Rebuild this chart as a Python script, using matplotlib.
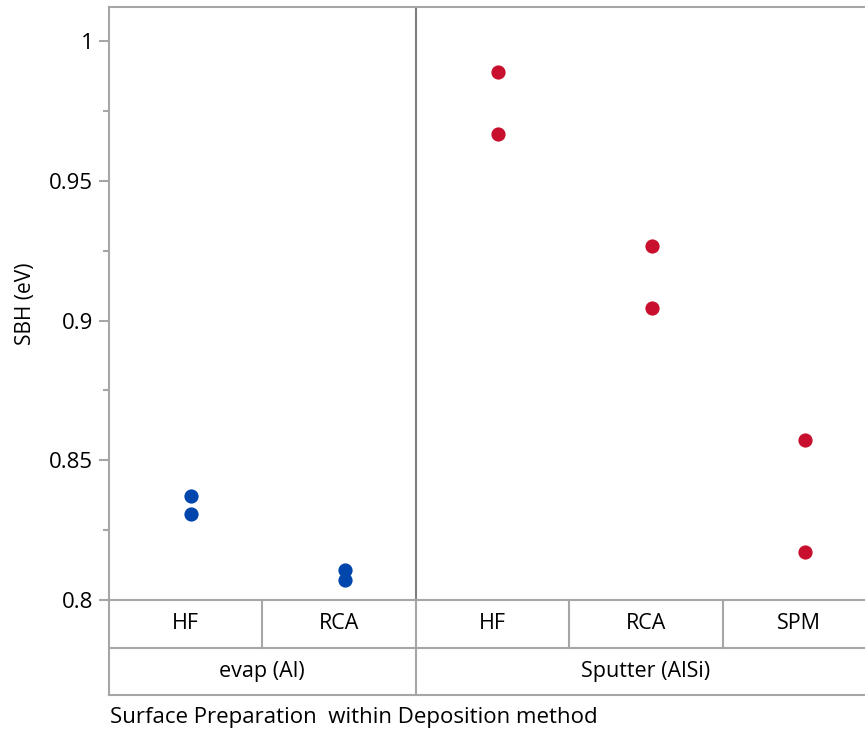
import matplotlib
matplotlib.use("Agg")
import matplotlib.pyplot as plt

plt.rcParams['font.family'] = ['Open Sans', 'DejaVu Sans']

# data
methods = ['evap (Al)', 'Sputter (AlSi)']
preps = [['HF', 'RCA'], ['HF', 'RCA', 'SPM']]
sbh = [
    [[0.8371, 0.8307], [0.8107, 0.8071]],
    [[0.9889, 0.9668], [0.9268, 0.9046], [0.8571, 0.8171]],
]
colors = ['#0046AD', '#C8102E']
grid_col = '#A6A6A6'

W, H = 865, 734
fig = plt.figure(figsize=(W / 100, H / 100), dpi=100)

x0 = 108.5
colw = 153.5
ncol = sum(len(p) for p in preps)
y_top, y_bot = 7, 600
ax = fig.add_axes([x0 / W, 1 - y_bot / H, ncol * colw / W, (y_bot - y_top) / H])

pos = 0
for gi, (plist, vals) in enumerate(zip(preps, sbh)):
    for pi, v in enumerate(vals):
        ax.scatter([pos + 0.54] * len(v), v, s=105, color=colors[gi],
                   zorder=3, linewidths=0)
        pos += 1

ax.set_xlim(0, ncol)
ax.set_ylim(0.8, 1.0122)
ax.set_xticks([])
ax.set_yticks([0.8, 0.85, 0.9, 0.95, 1.0])
ax.set_yticklabels(['0.8', '0.85', '0.9', '0.95', '1'])
ax.set_yticks([0.825, 0.875, 0.925, 0.975], minor=True)
ax.tick_params(axis='y', which='major', length=7, width=1.5, color=grid_col,
               labelsize=16, pad=4)
ax.tick_params(axis='y', which='minor', length=4, width=1.5, color=grid_col)
for s in ['left', 'top', 'bottom']:
    ax.spines[s].set_color(grid_col)
    ax.spines[s].set_linewidth(1.5)
ax.spines['right'].set_visible(False)
ax.axvline(len(preps[0]), color='#7F7F7F', lw=1.5, zorder=1)
ax.set_ylabel('SBH (eV)', fontsize=15)
ax.yaxis.set_label_coords(-0.095, 0.5)

# header rows
hax = fig.add_axes([x0 / W, 1 - 695 / H, ncol * colw / W, 95 / H])
hax.set_xlim(0, ncol)
hax.set_ylim(0, 2)
hax.axis('off')
hax.plot([0, 0], [0, 2], color=grid_col, lw=1.5, clip_on=False)
hax.plot([0, ncol], [1, 1], color=grid_col, lw=1.5, clip_on=False)
hax.plot([0, ncol], [0, 0], color=grid_col, lw=1.5, clip_on=False)
pos = 0
for gi, plist in enumerate(preps):
    start = pos
    for p in plist:
        hax.text(pos + 0.5, 1.5, p, ha='center', va='center', fontsize=15.5)
        pos += 1
        hax.plot([pos, pos], [1, 1.96], color=grid_col, lw=1.5, clip_on=False)
    hax.text((start + pos) / 2, 0.5, methods[gi], ha='center', va='center',
             fontsize=15.5)
    if gi < len(preps) - 1:
        hax.plot([pos, pos], [0, 1], color=grid_col, lw=1.5, clip_on=False)

fig.text(110 / W, 1 - 718 / H, 'Surface Preparation  within Deposition method',
         ha='left', va='center', fontsize=16)

fig.savefig('out.png', dpi=100)
